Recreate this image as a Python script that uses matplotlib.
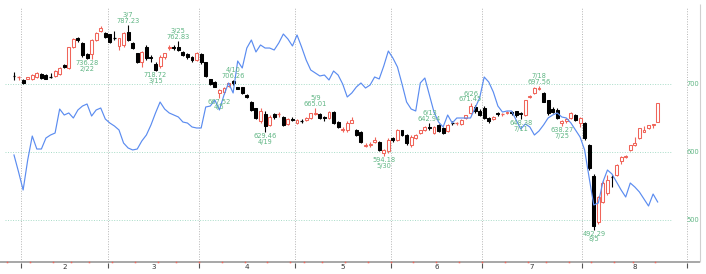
import pandas as pd
import matplotlib
matplotlib.use('Agg')
import matplotlib.pyplot as plt
from matplotlib.patches import Rectangle

# trading days (Tokyo market, 2024)
holidays = ['2024-02-12', '2024-02-23', '2024-03-20', '2024-04-29',
            '2024-05-03', '2024-05-06', '2024-07-15', '2024-08-12']
days = pd.bdate_range('2024-01-30', '2024-08-26', freq='C', holidays=holidays)

opens = [712, 710, 706, 708, 707, 710, 714, 713, 711, 712,
         714, 728, 723, 754, 767, 760, 744, 744, 765, 778,
         775, 773, 768, 756, 757, 777, 760, 745, 732, 755,
         740, 730, 726, 739, 753, 755, 755, 747, 744, 740,
         736, 744, 732, 707, 703, 687, 688, 697, 704, 695,
         695, 684, 673, 664, 645, 656, 640, 656, 656, 652,
         641, 649, 643, 645.5, 647, 650, 656, 656, 651, 649.5,
         659, 644, 632, 632, 643, 632, 630, 609, 610, 615,
         615, 599, 601, 620, 618, 632, 625, 610, 620.5, 628,
         632, 637, 627.5, 640, 635, 631, 643, 642, 641, 650,
         657, 666, 661, 665, 650, 648, 657, 655, 657, 659,
         660, 658, 654.5, 680.5, 686.5, 692, 687, 676, 663, 662,
         643, 645, 650, 655, 642, 642, 610, 565, 497, 527,
         539, 564, 566, 587, 592.5, 603, 610, 620.5, 630, 635,
         639, 644.6]
highs = [718, 711.5, 707, 711, 714, 717, 716, 714, 716, 720,
         725, 730, 755, 767, 769, 762, 745, 766, 776, 786,
         777, 774, 778, 768, 777, 787.23, 762, 746, 749, 757,
         742, 732, 742, 746, 758, 757, 762.83, 748, 745, 741,
         747, 746, 733, 708, 704, 692, 695, 702, 706.26, 696,
         696, 686, 675, 665, 664, 660, 654, 658, 659, 653,
         650, 651, 648, 649, 651, 658, 665.01, 657, 653, 661,
         660, 645, 637, 646, 652, 634, 631, 613, 614, 622,
         616, 604, 620, 622, 634, 633, 626, 625, 626, 633,
         638, 642.94, 638, 641, 637, 641, 645, 644, 648, 655,
         671.45, 669, 663, 667, 651, 653, 659, 658, 661, 661,
         661, 659, 677, 684, 695, 697.56, 688, 677, 666, 664,
         647, 650, 659, 656, 651, 644, 612, 567, 536, 557,
         566, 566, 582, 594, 596, 611, 622.5, 636, 638, 640,
         641.5, 672]
lows = [706, 706, 699.5, 707, 706, 709, 708, 707, 709, 711,
        713, 723, 722, 753, 762, 740, 736.28, 737, 763, 777,
        767, 760, 764, 750, 755, 763, 751, 731, 725, 736,
        733, 718.72, 724, 737, 750, 750, 748, 741, 737, 733,
        734, 730, 710, 699, 695, 680, 686, 695, 699, 692,
        686, 680, 660, 648, 643, 629.46, 638, 649, 652, 638,
        639, 645, 641, 643, 645, 649, 655, 649, 646, 648,
        641, 635, 630, 630, 642, 623, 613, 607, 608, 613,
        601, 594.18, 599, 615, 616, 623, 611, 608, 619, 627,
        631, 633, 626, 629, 626, 630, 639, 640, 640, 649,
        656, 658, 653, 648, 643, 647, 653, 653, 656, 655,
        652, 648.38, 653, 679, 685, 691, 673, 655, 657, 648,
        638.27, 643, 649, 645, 637, 618, 574, 486, 494, 525,
        537, 549, 565, 583, 591, 602, 609, 619, 629, 634,
        636, 644]
closes = [711.5, 711, 701, 710, 713, 716, 709, 708, 710, 719,
          724, 724.5, 754, 766, 764, 743, 738, 765, 775, 782,
          769, 762, 767.5, 767, 775, 765, 753, 733, 747.5, 738,
          738, 721, 740, 745, 755, 753, 750, 743, 739, 735,
          746, 732, 712, 700, 696, 691, 694, 701, 701.5, 693,
          687, 681, 662, 650, 661, 638, 652, 651, 657, 640,
          648, 647.5, 647, 644.5, 650, 657, 657.5, 650, 649.5, 659,
          642, 637, 634, 643, 647, 625, 615, 611, 612, 618,
          603, 603, 618, 617, 632, 624.5, 613, 622.5, 625, 632,
          637, 635, 637, 631, 628, 640, 642, 643, 647, 654,
          667, 660, 655, 650, 645, 652, 655.5, 656, 659, 657,
          654, 656.5, 676, 682, 694, 693.5, 674, 657, 659, 650,
          645, 648, 657, 647, 650, 620, 576, 491, 534, 555,
          559, 563, 581, 592, 594, 610, 613, 635, 632.5, 639,
          641, 671.6]
# comparison line, drawn on the price scale
compare = [595.6, 570.6, 544.1, 588.2, 623.5, 604.4, 604.4, 620.6, 625.0, 627.9,
           663.2, 654.4, 657.4, 650.0, 661.8, 667.6, 670.6, 652.9, 661.8, 664.7,
           648.5, 642.6, 638.2, 632.4, 613.2, 605.9, 603.0, 604.4, 616.2, 625.0,
           639.7, 657.4, 673.5, 663.2, 657.4, 654.4, 651.5, 644.1, 642.6, 636.8,
           635.3, 635.3, 666.2, 667.6, 676.5, 661.8, 683.8, 701.5, 686.8, 733.8,
           723.5, 752.9, 764.7, 747.1, 757.4, 752.9, 752.9, 750.0, 760.3, 773.5,
           766.2, 755.9, 772.1, 754.4, 735.3, 720.6, 716.2, 711.8, 713.2, 705.9,
           719.1, 713.2, 700.0, 680.9, 686.8, 695.6, 701.5, 694.1, 698.5, 710.3,
           707.4, 726.5, 748.5, 738.2, 725.0, 700.0, 673.5, 663.2, 660.3, 701.5,
           708.8, 683.8, 658.8, 644.1, 636.8, 654.4, 642.6, 650.0, 650.0, 650.0,
           650.0, 664.7, 679.4, 710.3, 702.9, 688.2, 667.6, 658.8, 660.3, 660.3,
           647.1, 633.8, 641.2, 636.8, 625.0, 630.9, 639.7, 650.0, 654.4, 657.4,
           651.5, 650.0, 642.6, 632.4, 622.1, 603.0, 561.8, 522.1, 525.0, 555.9,
           573.5, 567.6, 555.9, 544.1, 533.8, 554.4, 548.5, 541.2, 530.9, 520.6,
           538.2, 526.5]

# labelled turning points
mark_dates = ['2024-02-22', '2024-03-07', '2024-03-15', '2024-03-25', '2024-04-05',
              '2024-04-10', '2024-04-19', '2024-05-09', '2024-05-30', '2024-06-13',
              '2024-06-26', '2024-07-11', '2024-07-18', '2024-07-25', '2024-08-05']
mark_text = ['736.28', '787.23', '718.72', '762.83', '667.52',
             '706.26', '629.46', '665.01', '594.18', '642.94',
             '671.45', '648.38', '697.56', '638.27', '492.29']
mark_kind = ['low', 'high', 'low', 'high', 'low',
             'high', 'low', 'high', 'low', 'high',
             'high', 'low', 'high', 'low', 'low']

price_grid = [700, 600, 500]

RED = '#f0655a'
GREEN = '#5fb583'
BLUE = '#5b8cf0'
FS = 4.8

fig = plt.figure(figsize=(7.06, 2.74), dpi=100)
ax = fig.add_axes([0, 0, 1, 1])
step = 4.565
ax.set_xlim(-14 / step, (706 - 14) / step)
ax.set_ylim(700 - 190 / 0.68, 700 + 84 / 0.68)
ax.axis('off')


def py(pix):
    # pixel row -> price units, for frame furniture
    return 700 - (pix - 84) / 0.68


n = len(days)
x = list(range(n))
axis_y = py(262)

# month separators
months = [d.month for d in days]
seps = [i - 0.5 for i in range(1, n) if months[i] != months[i - 1]]
seps.append(147.5)
ax.vlines(seps, axis_y, py(8), colors='#b5b5b5', linestyles=(0, (1, 1.6)), lw=0.7, zorder=1)
ax.hlines(price_grid, -2, 144, colors='#a8dcc8', linestyles=(0, (1, 1.6)), lw=0.7, zorder=1)
for v in price_grid:
    ax.text(148.7, v, str(v), ha='center', va='center', fontsize=FS, color=GREEN)

# bottom axis, right border
ax.hlines(axis_y, -4, 150.3, colors='#a0a0a0', lw=1.3, zorder=2)
ax.vlines(150.3, axis_y, py(4), colors='#d0d0d0', lw=0.8)
ax.vlines(seps, py(263), py(268), colors='#555555', lw=0.8)
labels = sorted(set(months))
for k, m in enumerate(labels[1:]):
    ax.text((seps[k] + seps[k + 1]) / 2, py(267), str(m), ha='center', va='center',
            fontsize=FS + 0.3, color='#333333')
weeks = [-1.5] + [i - 0.5 for i in range(1, n) if days[i].week != days[i - 1].week]
ax.plot(weeks, [axis_y] * len(weeks), 's', color=RED, ms=1.1, mew=0, zorder=3)

# candles
w = 0.64
for i in x:
    o, h, l, c = opens[i], highs[i], lows[i], closes[i]
    up = c >= o
    col = RED if up else 'black'
    ax.vlines(i, l, h, colors=col, lw=0.8, zorder=4)
    lo, hi = min(o, c), max(o, c)
    if hi - lo < 1.2:
        ax.hlines((o + c) / 2, i - w / 2, i + w / 2, colors=col, lw=0.9, zorder=5)
    else:
        ax.add_patch(Rectangle((i - w / 2, lo), w, hi - lo,
                               facecolor='white' if up else 'black',
                               edgecolor=col, lw=0.75, zorder=5))

ax.plot(x, compare, color=BLUE, lw=0.85, zorder=6)

day_index = {d.strftime('%Y-%m-%d'): i for i, d in enumerate(days)}
for d, t, kind in zip(mark_dates, mark_text, mark_kind):
    i = day_index[d]
    dd = days[i]
    ds = f'{dd.month}/{dd.day}'
    if kind == 'high':
        ax.annotate(f'{ds}\n{t}', (i, highs[i]), xytext=(0, 0.8), textcoords='offset points',
                    ha='center', va='bottom', fontsize=FS, color=GREEN, linespacing=0.95, zorder=7)
    else:
        ax.annotate(f'{t}\n{ds}', (i, lows[i]), xytext=(0, -0.8), textcoords='offset points',
                    ha='center', va='top', fontsize=FS, color=GREEN, linespacing=0.95, zorder=7)

fig.savefig('out.png', dpi=100, facecolor='white')
